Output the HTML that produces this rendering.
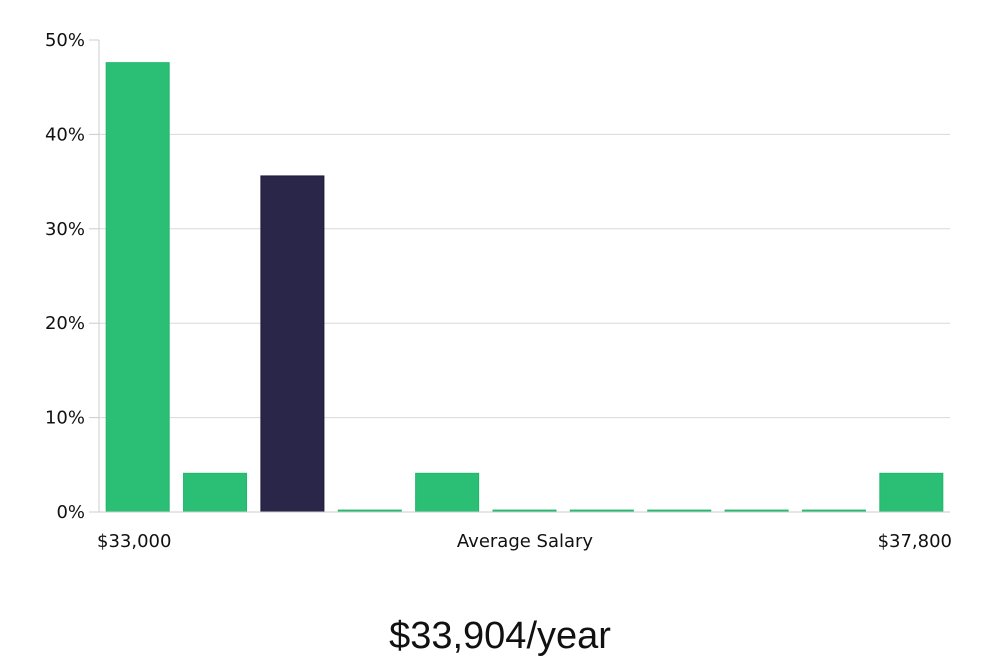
<!DOCTYPE html>
<html><head><meta charset="utf-8"><style>
html,body{margin:0;padding:0;background:#fff;width:1000px;height:660px;overflow:hidden}
text{font-family:"DejaVu Sans","Liberation Sans",sans-serif}
</style></head><body>
<svg id="chart" width="1000" height="660" xmlns="http://www.w3.org/2000/svg">
<g id="grid"></g>
<g id="bars"></g>
<g id="axis"></g>
<text x="97" y="547" font-size="18" fill="#111">$33,000</text>
<text x="525" y="547" font-size="18" fill="#111" text-anchor="middle">Average Salary</text>
<text x="952" y="547" font-size="18" fill="#111" text-anchor="end">$37,800</text>
<text x="500" y="648" font-size="38" fill="#111" text-anchor="middle" style="font-family:'Liberation Sans Narrow','Liberation Sans',sans-serif">$33,904/year</text>
</svg>
<script>
const values=[47.6,4.1,35.6,0.2,4.1,0.2,0.2,0.2,0.2,0.2,4.1];
const highlight=[false,false,true,false,false,false,false,false,false,false,false];
const ticks=[0,10,20,30,40,50];
const tickLabels=["0%","10%","20%","30%","40%","50%"];
const NS="http://www.w3.org/2000/svg";
const x0=99,x1=950,y0=512,yTop=40,maxV=50;
const y=v=>y0-(v/maxV)*(y0-yTop);
const band=(x1-x0)/values.length;
const grid=document.getElementById('grid'),axis=document.getElementById('axis'),bars=document.getElementById('bars');
function mk(t,a){const e=document.createElementNS(NS,t);for(const k in a)e.setAttribute(k,a[k]);return e;}
ticks.forEach((t,i)=>{
  if(t>0&&t<maxV){const l=mk('line',{x1:x0,x2:x1,y1:y(t),y2:y(t),stroke:'#d9d9d9','stroke-width':1});
  
  grid.appendChild(l);}
  const tk=mk('line',{x1:x0-10,x2:x0,y1:y(t),y2:y(t),stroke:'#ccc','stroke-width':1});
  
  axis.appendChild(tk);
  const tx=mk('text',{x:85,y:y(t)+6,'font-size':18,fill:'#111','text-anchor':'end'});
  tx.textContent=tickLabels[i];
  
  axis.appendChild(tx);
});
const ax=mk('line',{x1:x0,x2:x0,y1:yTop,y2:y0,stroke:'#ccc','stroke-width':1});

axis.appendChild(ax);
const bx=mk('line',{x1:x0-10,x2:x1,y1:y0,y2:y0,stroke:'#ccc','stroke-width':1});

axis.appendChild(bx);
values.forEach((v,i)=>{
  const bw=63,bxp=x0+band*i+(band-bw)/2;
  const h=Math.max(1.5,y0-y(v));
  const r=mk('rect',{x:bxp,y:y0-h,width:bw,height:h,fill:highlight[i]?'#2a2649':'#2bbf76',stroke:highlight[i]?'#1c1838':'#22b56c','stroke-width':1});
  
  
  bars.appendChild(r);
});
</script>
</body></html>
